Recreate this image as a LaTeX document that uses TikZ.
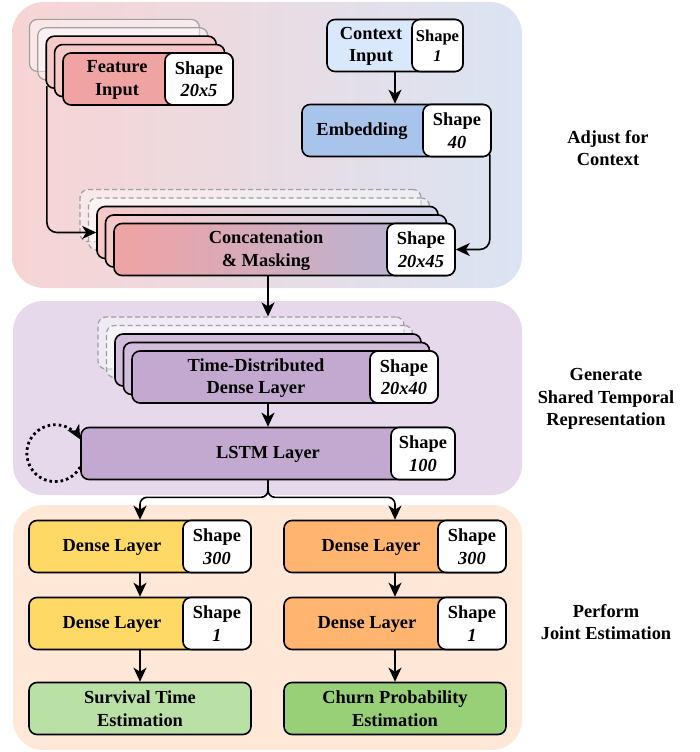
\documentclass[tikz,border=0pt]{standalone}
\usepackage{fontspec}
\setmainfont{Liberation Serif}
\usetikzlibrary{arrows.meta}
\definecolor{topL}{HTML}{F7D4D4}
\definecolor{topR}{HTML}{DAE4F3}
\definecolor{midbg}{HTML}{E5D9EB}
\definecolor{botbg}{HTML}{FFE8D7}
\definecolor{featC}{HTML}{F0A3A3}
\definecolor{ctxC}{HTML}{DAE8FC}
\definecolor{embC}{HTML}{A9C4EB}
\definecolor{catC}{HTML}{B0B6DC}
\definecolor{tdC}{HTML}{C3A9D0}
\definecolor{ylwC}{HTML}{FFD966}
\definecolor{orgC}{HTML}{FFB570}
\definecolor{grnL}{HTML}{B9E0A5}
\definecolor{grnR}{HTML}{97D077}
\begin{document}
\begin{tikzpicture}[x=1pt,y=-1pt,font=\bfseries\fontsize{18.4}{22.5}\selectfont]
\tikzstyle{box}=[draw,line width=1.6pt,rounded corners=8pt,minimum height=52pt,inner sep=0pt]
\tikzstyle{shp}=[box,fill=white,minimum width=68pt,anchor=east,align=center]
\tikzstyle{txt}=[align=center,inner sep=0pt]
\tikzstyle{ghost}=[box,draw=gray!75,line width=1.2pt,fill=white,fill opacity=0.45]
\tikzstyle{arr}=[line width=1.6pt,-{Stealth[length=14pt,width=13pt,inset=4pt]}]
\useasboundingbox (0,0) rectangle (699,752);

% panels
\path[rounded corners=32pt,left color=topL,right color=topR] (12,2) rectangle (522,288);
\path[rounded corners=30pt,fill=midbg] (13,301) rectangle (522,495);
\path[rounded corners=30pt,fill=botbg] (13,505) rectangle (522,750);

% feature input
\foreach \k in {4,3}
  \node[ghost,minimum width=170pt] (fin\k) at ({148-8.4*\k},{79-8.4*\k}) {};
\foreach \k in {2,1}
  \node[box,fill=featC!60,minimum width=170pt] (fin\k) at ({148-8.4*\k},{79-8.4*\k}) {};
\node[box,fill=featC,minimum width=170pt] (fin) at (148,79) {};
\node[shp] (finS) at (fin.east) {Shape\\\textit{20x5}};
\node[txt] (finT) at (117,80) {Feature\\Input};

% context input
\node[box,fill=ctxC,minimum width=136pt] (ctx) at (395,45.5) {};
\node[shp,minimum width=51pt,font=\bfseries\fontsize{16.5}{20}\selectfont] (ctxS) at (ctx.east) {Shape\\\textit{1}};
\node[txt] (ctxT) at (371,46.5) {Context\\Input};

\node[box,fill=embC,minimum width=189pt] (emb) at (396.5,130.5) {};
\node[shp] (embS) at (emb.east) {Shape\\\textit{40}};
\node[txt] (embT) at (362,131.5) {Embedding};

% concatenation
\foreach \k in {4,3}
  \node[ghost,dash pattern=on 5pt off 3pt,minimum width=341pt] (cat\k) at ({284.5-8.5*\k},{249.5-8.5*\k}) {};
\foreach \k in {2,1}
  \node[box,left color=featC!60,right color=catC!60,minimum width=341pt] (cat\k) at ({284.5-8.5*\k},{249.5-8.5*\k}) {};
\node[box,left color=featC,right color=catC,minimum width=341pt] (cat) at (284.5,249.5) {};
\node[shp] (catS) at (cat.east) {Shape\\\textit{20x45}};
\node[txt] (catT) at (266,250.5) {Concatenation\\\& Masking};

% shared temporal part
\foreach \k in {4,3}
  \node[ghost,dash pattern=on 5pt off 3pt,minimum width=306pt] (tdl\k) at ({285-8.5*\k},{377-8.5*\k}) {};
\foreach \k in {2,1}
  \node[box,fill=tdC!75,minimum width=306pt] (tdl\k) at ({285-8.5*\k},{377-8.5*\k}) {};
\node[box,fill=tdC,minimum width=306pt] (tdl) at (285,377) {};
\node[shp] (tdlS) at (tdl.east) {Shape\\\textit{20x40}};
\node[txt] (tdlT) at (256,378) {Time-Distributed\\Dense Layer};

\node[box,fill=tdC,minimum width=374pt] (lstm) at (268,453.5) {};
\node[shp,minimum width=64pt] (lstmS) at (lstm.east) {Shape\\\textit{100}};
\node[txt] (lstmT) at (268,454.5) {LSTM Layer};

% joint estimation
\node[box,fill=ylwC,minimum width=222pt] (sd1) at (140,546.5) {};
\node[shp] (sd1S) at (sd1.east) {Shape\\\textit{300}};
\node[txt] (sd1T) at (112,547.5) {Dense Layer};
\node[box,fill=ylwC,minimum width=222pt] (sd2) at (140,623.5) {};
\node[shp] (sd2S) at (sd2.east) {Shape\\\textit{1}};
\node[txt] (sd2T) at (112,624.5) {Dense Layer};
\node[box,fill=grnL,minimum width=222pt,align=center] (sout) at (140,708.5) {Survival Time\\Estimation};

\node[box,fill=orgC,minimum width=222pt] (cd1) at (395,546.5) {};
\node[shp] (cd1S) at (cd1.east) {Shape\\\textit{300}};
\node[txt] (cd1T) at (371,547.5) {Dense Layer};
\node[box,fill=orgC,minimum width=222pt] (cd2) at (395,623.5) {};
\node[shp] (cd2S) at (cd2.east) {Shape\\\textit{1}};
\node[txt] (cd2T) at (367,624.5) {Dense Layer};
\node[box,fill=grnR,minimum width=222pt,align=center] (cout) at (395,708.5) {Churn Probability\\Estimation};

% stage labels
\node[txt] (adj) at (608,148) {Adjust for\\Context};
\node[txt] (gen) at (606,399) {Generate\\Shared Temporal\\Representation};
\node[txt] (perf) at (606,622) {Perform\\Joint Estimation};

% connectors
\coordinate (spine) at (268,0);
\draw[arr,rounded corners=10pt] ([xshift=1.5pt,yshift=3pt]fin2.south west) |- (cat2.west);
\draw[arr] (ctx.south) -- (ctx.south |- emb.north);
\draw[arr,rounded corners=10pt] ([xshift=-2pt,yshift=3pt]embS.south east) |- (catS.east);
\draw[arr] (cat.south -| spine) -- (tdl4.north -| spine);
\draw[arr] (tdl.south -| spine) -- (lstm.north -| spine);
\draw[line width=2.8pt,dash pattern=on 2.6pt off 3pt,-{Stealth[length=14pt,width=13pt,inset=4pt]}] ([yshift=-13.5pt]lstm.west) arc[start angle=29,end angle=331,radius=28.5];
\draw[arr,rounded corners=7pt] (lstm.south -| spine) -- ++(0,17) -| (sd1.north);
\draw[arr,rounded corners=7pt] (lstm.south -| spine) -- ++(0,17) -| (cd1.north);
\draw[arr] (sd1.south) -- (sd2.north);
\draw[arr] (sd2.south) -- (sout.north);
\draw[arr] (cd1.south) -- (cd2.north);
\draw[arr] (cd2.south) -- (cout.north);
\end{tikzpicture}
\end{document}
